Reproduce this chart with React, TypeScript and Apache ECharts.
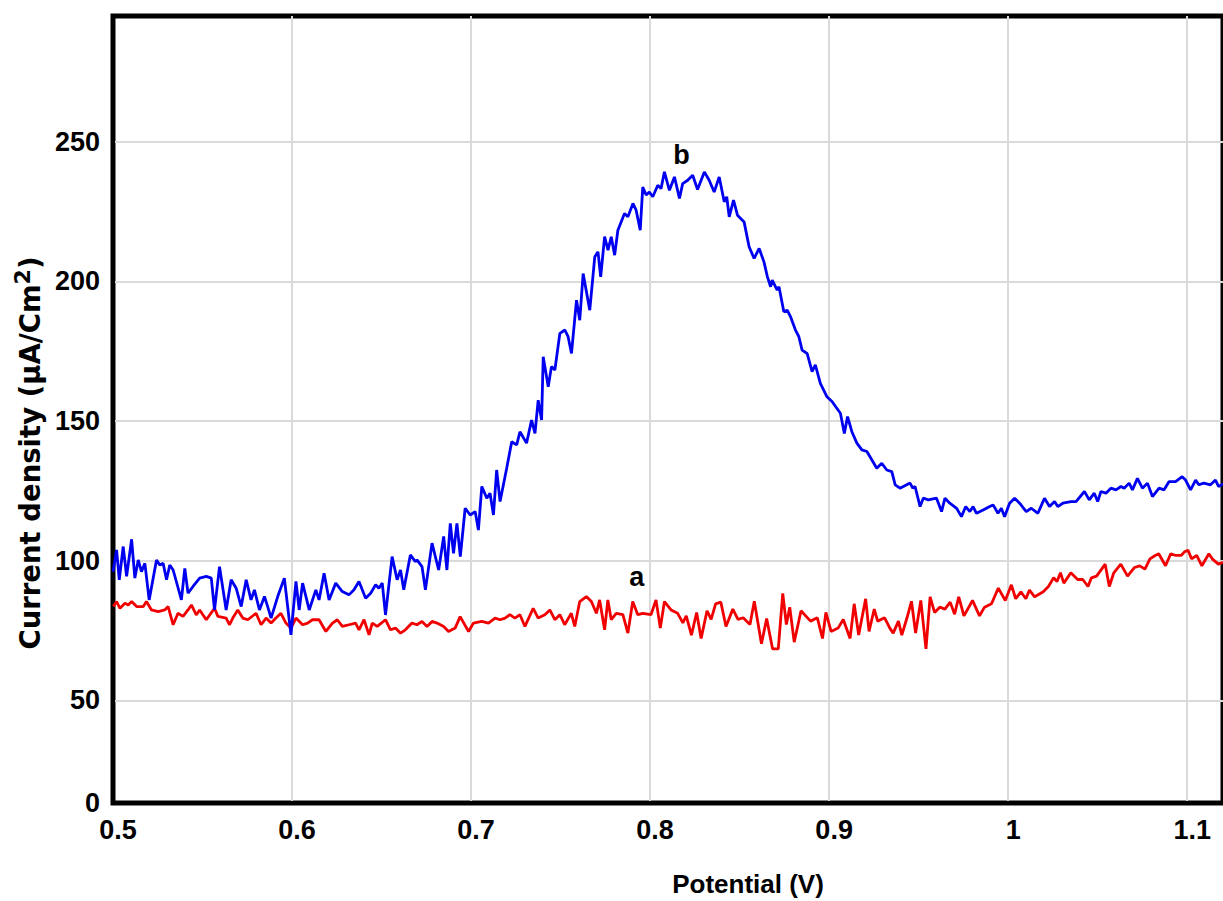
import React, { useEffect, useRef } from "react";
import * as echarts from "echarts";

// Axis settings (values)
const X_MIN = 0.5;
const X_MAX = 1.12;
const Y_MIN = 13.3;
const Y_MAX = 295;
const xTickValues = [0.5, 0.6, 0.7, 0.8, 0.9, 1.0, 1.1];
const yTickValues = [50, 100, 150, 200, 250];

// Curve a (red): [potential V, current density µA/cm²]
const curveA: number[][] = [
  [0.5002, 83.6], [0.502, 85.4], [0.5039, 83.0], [0.5067, 84.8], [0.5085, 84.2], [0.5104, 85.4], [0.5132, 83.6], [0.5169, 83.6],
  [0.5187, 85.4], [0.5215, 82.4], [0.5252, 81.8], [0.5289, 82.4], [0.5308, 83.6], [0.5336, 77.1], [0.5363, 81.2], [0.5391, 80.1],
  [0.5419, 82.4], [0.5438, 84.2], [0.5465, 80.6], [0.5484, 82.4], [0.5521, 78.9], [0.5567, 83.0], [0.5586, 80.1], [0.5632, 79.5],
  [0.5651, 77.1], [0.5669, 79.5], [0.5697, 82.4], [0.5725, 79.5], [0.5753, 78.9], [0.5799, 81.2], [0.5827, 77.1], [0.5855, 79.5],
  [0.5883, 77.7], [0.591, 79.5], [0.5938, 81.2], [0.5966, 77.7], [0.5994, 75.9], [0.6022, 79.5], [0.6059, 77.1], [0.6087, 77.7],
  [0.6114, 78.9], [0.6151, 78.9], [0.6189, 74.7], [0.6226, 77.7], [0.6253, 78.9], [0.6281, 76.5], [0.6318, 77.1], [0.6355, 77.7],
  [0.6374, 75.3], [0.6402, 78.9], [0.643, 73.5], [0.6448, 77.7], [0.6476, 76.5], [0.6522, 78.9], [0.655, 75.3], [0.6578, 75.9],
  [0.6606, 74.1], [0.6633, 75.3], [0.667, 77.7], [0.6698, 77.1], [0.6726, 78.3], [0.6754, 76.5], [0.6782, 78.3], [0.681, 77.7],
  [0.6847, 76.5], [0.6874, 74.7], [0.6911, 75.9], [0.6939, 80.0], [0.6986, 74.7], [0.7013, 77.7], [0.706, 78.3], [0.7097, 77.7],
  [0.7134, 79.5], [0.7162, 78.9], [0.719, 79.5], [0.7217, 80.7], [0.7245, 79.5], [0.7273, 80.7], [0.7301, 76.5], [0.7347, 83.0],
  [0.7375, 79.5], [0.7412, 80.7], [0.744, 82.4], [0.7468, 78.9], [0.7496, 80.7], [0.7523, 77.1], [0.756, 81.2], [0.7579, 76.5],
  [0.7607, 85.4], [0.7644, 87.2], [0.7672, 85.4], [0.77, 81.2], [0.7718, 86.0], [0.7746, 75.3], [0.7764, 86.0], [0.7783, 78.9],
  [0.7811, 81.2], [0.7848, 80.7], [0.7876, 74.1], [0.7903, 85.4], [0.7931, 80.7], [0.7959, 81.2], [0.8005, 80.7], [0.8033, 86.0],
  [0.8057, 75.9], [0.808, 85.4], [0.8117, 82.4], [0.8154, 81.2], [0.8183, 77.8], [0.8202, 80.3], [0.8231, 73.4], [0.826, 81.5],
  [0.8285, 72.2], [0.8318, 82.1], [0.8341, 79.0], [0.8366, 84.6], [0.8395, 85.2], [0.8424, 76.5], [0.8462, 82.7], [0.8491, 79.0],
  [0.852, 79.6], [0.8558, 77.2], [0.8582, 85.5], [0.8622, 70.3], [0.8651, 79.3], [0.8684, 68.5], [0.8716, 68.5], [0.8741, 88.3],
  [0.8761, 77.2], [0.878, 83.4], [0.8805, 70.9], [0.8843, 82.1], [0.8896, 78.4], [0.8934, 79.6], [0.8963, 72.2], [0.8982, 81.5],
  [0.9011, 74.7], [0.905, 75.9], [0.9079, 79.0], [0.9117, 72.2], [0.914, 84.6], [0.9165, 73.4], [0.9204, 86.4], [0.9223, 74.7],
  [0.9252, 82.7], [0.9271, 78.4], [0.931, 79.6], [0.9339, 75.9], [0.9358, 74.1], [0.9387, 78.4], [0.9406, 73.4], [0.9435, 79.6],
  [0.946, 85.5], [0.9483, 74.1], [0.9512, 85.8], [0.9541, 68.5], [0.9564, 87.1], [0.9589, 81.5], [0.9618, 83.4], [0.9647, 82.7],
  [0.9676, 85.2], [0.9701, 80.9], [0.9724, 87.1], [0.9753, 80.3], [0.9801, 85.8], [0.984, 80.3], [0.9868, 83.4], [0.9907, 84.6],
  [0.9945, 90.2], [0.9984, 85.8], [1.0018, 91.4], [1.0042, 86.4], [1.0071, 88.9], [1.0099, 86.4], [1.0119, 89.5], [1.0148, 87.1],
  [1.0196, 88.9], [1.0225, 90.8], [1.0254, 93.9], [1.0273, 92.6], [1.0292, 95.7], [1.0311, 92.0], [1.035, 95.7], [1.0388, 93.3],
  [1.0417, 93.3], [1.0446, 90.8], [1.0465, 93.9], [1.0494, 94.5], [1.0542, 98.8], [1.0565, 90.8], [1.059, 95.7], [1.0629, 98.8],
  [1.0667, 94.5], [1.0706, 97.6], [1.0735, 98.2], [1.0764, 97.0], [1.0792, 100.7], [1.0821, 101.9], [1.0841, 102.5], [1.0879, 98.2],
  [1.0908, 102.5], [1.0937, 101.9], [1.0966, 101.9], [1.0985, 103.2], [1.1005, 103.8], [1.1024, 100.7], [1.1053, 101.9], [1.1082, 98.2],
  [1.1121, 102.5], [1.114, 100.7], [1.1174, 98.8], [1.12, 99.5],
];

// Curve b (blue): [potential V, current density µA/cm²]
const curveB: number[][] = [
  [0.5, 96.1], [0.502, 103.9], [0.5035, 93.2], [0.5057, 105.1], [0.5076, 94.4], [0.5104, 107.7], [0.5122, 93.8], [0.5141, 100.3],
  [0.5159, 96.1], [0.5178, 99.1], [0.5202, 86.0], [0.5243, 100.3], [0.5261, 98.5], [0.528, 99.1], [0.5299, 93.2], [0.5317, 98.5],
  [0.5336, 96.7], [0.5382, 86.0], [0.5401, 97.3], [0.5419, 88.4], [0.5447, 90.8], [0.5484, 93.8], [0.5521, 94.4], [0.5549, 93.8],
  [0.5567, 82.4], [0.5595, 97.9], [0.5632, 82.4], [0.566, 93.2], [0.5688, 90.2], [0.5716, 83.6], [0.5744, 93.2], [0.5771, 86.0],
  [0.579, 89.6], [0.5818, 82.4], [0.5846, 87.2], [0.5864, 83.6], [0.5883, 79.5], [0.592, 87.2], [0.5957, 93.8], [0.5994, 73.5],
  [0.6022, 92.6], [0.604, 82.4], [0.6059, 92.0], [0.6096, 82.4], [0.6133, 89.6], [0.6151, 86.0], [0.6179, 95.5], [0.6207, 86.0],
  [0.6244, 92.0], [0.6281, 89.0], [0.6318, 87.8], [0.6346, 89.6], [0.6374, 92.6], [0.6411, 86.6], [0.6439, 88.4], [0.6467, 91.4],
  [0.6485, 90.2], [0.6504, 92.0], [0.6522, 80.6], [0.6559, 101.5], [0.6587, 93.2], [0.6606, 96.7], [0.6624, 89.6], [0.6661, 102.1],
  [0.6689, 99.7], [0.6698, 100.3], [0.6726, 97.9], [0.6745, 89.6], [0.6782, 106.3], [0.6819, 96.7], [0.6847, 108.7], [0.6865, 96.7],
  [0.6884, 113.4], [0.6902, 102.7], [0.6921, 113.4], [0.694, 101.5], [0.6967, 118.8], [0.6995, 116.4], [0.7023, 117.6], [0.7041, 111.0],
  [0.706, 126.6], [0.7088, 122.4], [0.7106, 124.2], [0.7125, 116.4], [0.7143, 132.5], [0.7162, 121.2], [0.7199, 133.1], [0.7227, 142.6],
  [0.7255, 141.5], [0.7273, 146.2], [0.731, 142.1], [0.7338, 150.4], [0.7357, 145.6], [0.7375, 157.5], [0.7394, 150.4], [0.7403, 173.0],
  [0.7431, 162.3], [0.7449, 169.5], [0.7468, 168.3], [0.7496, 181.4], [0.7524, 182.6], [0.7542, 180.2], [0.7561, 174.2], [0.7589, 193.3],
  [0.7607, 186.1], [0.7626, 202.8], [0.7663, 189.7], [0.7691, 208.8], [0.7709, 210.6], [0.7724, 201.6], [0.7746, 216.0], [0.7765, 211.2],
  [0.7783, 216.0], [0.7802, 209.4], [0.782, 218.3], [0.7857, 224.3], [0.7876, 223.1], [0.7904, 227.9], [0.7922, 225.5], [0.7945, 218.3],
  [0.7959, 233.8], [0.7978, 230.9], [0.7996, 232.0], [0.8015, 230.3], [0.8043, 234.4], [0.8061, 233.2], [0.808, 239.2], [0.8108, 232.6],
  [0.8136, 237.4], [0.8164, 229.7], [0.8182, 235.0], [0.821, 236.2], [0.8238, 238.0], [0.8265, 232.9], [0.8303, 239.2], [0.833, 236.2],
  [0.8358, 232.0], [0.8386, 237.4], [0.8414, 228.5], [0.8428, 230.3], [0.8442, 223.1], [0.8466, 229.1], [0.8488, 223.7], [0.8525, 221.3],
  [0.8553, 212.4], [0.8581, 208.2], [0.8609, 211.8], [0.8636, 207.0], [0.8655, 201.7], [0.8673, 198.1], [0.8682, 200.5], [0.871, 196.9],
  [0.872, 198.1], [0.8747, 189.1], [0.8766, 189.7], [0.8784, 187.4], [0.8812, 182.6], [0.8831, 180.2], [0.8849, 175.4], [0.8877, 174.2],
  [0.8905, 167.7], [0.8923, 170.1], [0.8951, 163.5], [0.8988, 158.7], [0.9016, 157.0], [0.9063, 152.8], [0.9085, 145.6], [0.9103, 151.6],
  [0.9127, 146.2], [0.9155, 142.1], [0.9183, 139.7], [0.9211, 139.1], [0.9239, 136.1], [0.9266, 133.1], [0.9294, 134.9], [0.9322, 132.5],
  [0.935, 131.9], [0.9369, 127.2], [0.9396, 126.0], [0.9433, 127.2], [0.9452, 127.8], [0.9467, 126.0], [0.948, 126.6], [0.9508, 119.4],
  [0.9526, 122.4], [0.9554, 121.8], [0.96, 122.4], [0.9628, 117.6], [0.9647, 122.4], [0.9674, 120.6], [0.9712, 118.8], [0.9739, 115.8],
  [0.9763, 119.4], [0.9786, 117.6], [0.9804, 119.4], [0.9823, 117.0], [0.986, 118.2], [0.9897, 119.4], [0.9916, 120.0], [0.9943, 117.0],
  [0.9962, 118.8], [0.998, 115.8], [1.0008, 120.6], [1.0036, 122.4], [1.0064, 120.6], [1.0101, 117.6], [1.0129, 118.8], [1.0166, 117.0],
  [1.0203, 122.4], [1.0231, 119.4], [1.0259, 121.2], [1.0277, 119.4], [1.0305, 120.6], [1.0351, 121.2], [1.0379, 121.2], [1.0426, 124.8],
  [1.0453, 121.8], [1.0481, 124.2], [1.05, 121.2], [1.0518, 124.8], [1.0546, 124.2], [1.0574, 126.0], [1.0602, 125.4], [1.063, 126.6],
  [1.0648, 126.0], [1.0676, 127.8], [1.0694, 125.4], [1.0722, 129.5], [1.075, 126.0], [1.0778, 127.8], [1.0806, 123.0], [1.0843, 126.0],
  [1.0871, 125.4], [1.0898, 128.3], [1.0935, 128.3], [1.0972, 130.1], [1.0991, 128.9], [1.1019, 125.4], [1.1047, 128.9], [1.1065, 127.2],
  [1.1093, 127.8], [1.113, 127.2], [1.1158, 128.9], [1.1175, 126.6], [1.12, 127.5],
];

// Curve annotation anchors [potential, current density]
const labelA = [0.7926, 94.2];
const labelB = [0.8176, 245.2];

const BOLD_SANS = "'Liberation Sans', Arial, sans-serif";
const TITLE_SANS = "'DejaVu Sans', Verdana, sans-serif";

export default function App() {
  const ref = useRef<HTMLDivElement>(null);

  useEffect(() => {
    if (!ref.current) return;
    const chart = echarts.init(ref.current, null, { renderer: "svg" });
    const tickFont = {
      fontFamily: BOLD_SANS,
      fontWeight: "bold" as const,
      fontSize: 27,
      color: "#000",
    };
    const curveLabel = (text: string) => ({
      show: true,
      position: "inside" as const,
      formatter: text,
      fontFamily: BOLD_SANS,
      fontWeight: "bold" as const,
      fontSize: 27,
      color: "#000",
    });

    chart.setOption({
      animation: false,
      backgroundColor: "#ffffff",
      grid: {
        left: 113,
        right: -5,
        top: 16,
        bottom: 98,
        show: true,
        borderColor: "#000",
        borderWidth: 5,
        backgroundColor: "transparent",
      },
      xAxis: {
        type: "value",
        min: X_MIN,
        max: X_MAX,
        interval: 0.1,
        axisLine: { show: true, onZero: false, lineStyle: { color: "#000", width: 4 } },
        axisTick: { show: false, customValues: xTickValues },
        axisLabel: {
          customValues: xTickValues,
          formatter: (v: number) => String(Math.round(v * 10) / 10),
          margin: 13,
          padding: [0, 0, 0, 10],
          ...tickFont,
        },
        splitLine: { show: true, lineStyle: { color: "#dadada", width: 2 } },
      },
      yAxis: {
        type: "value",
        min: Y_MIN,
        max: Y_MAX,
        axisLine: { show: true, onZero: false, lineStyle: { color: "#000", width: 4 } },
        axisTick: { show: false, customValues: yTickValues },
        axisLabel: {
          customValues: [Y_MIN, ...yTickValues],
          formatter: (v: number) => (v < 20 ? "0" : String(Math.round(v))),
          margin: 13,
          ...tickFont,
        },
        splitLine: { show: true, lineStyle: { color: "#dadada", width: 2 } },
      },
      series: [
        {
          name: "a",
          type: "line",
          data: curveA,
          symbol: "none",
          showSymbol: false,
          lineStyle: { color: "#f00000", width: 2.8 },
          itemStyle: { color: "#f00000" },
          markPoint: {
            symbol: "circle",
            symbolSize: 0,
            silent: true,
            data: [{ coord: labelA, label: curveLabel("a") }],
          },
        },
        {
          name: "b",
          type: "line",
          data: curveB,
          symbol: "none",
          showSymbol: false,
          lineStyle: { color: "#0000f0", width: 2.8 },
          itemStyle: { color: "#0000f0" },
          markPoint: {
            symbol: "circle",
            symbolSize: 0,
            silent: true,
            data: [{ coord: labelB, label: curveLabel("b") }],
          },
        },
      ],
      graphic: [
        {
          type: "text",
          x: 30,
          y: 453,
          rotation: Math.PI / 2,
          style: {
            text: "Current density (µA/Cm{sup|2})",
            fontFamily: TITLE_SANS,
            fontWeight: "bold",
            fontSize: 27.5,
            fill: "#000",
            align: "center",
            verticalAlign: "middle",
            rich: {
              sup: {
                fontFamily: TITLE_SANS,
                fontWeight: "bold",
                fontSize: 22,
                fill: "#000",
                padding: [0, 0, 15, 0],
              },
            },
          },
        },
        {
          type: "text",
          x: 748,
          y: 884,
          style: {
            text: "Potential (V)",
            fontFamily: BOLD_SANS,
            fontWeight: "bold",
            fontSize: 26,
            fill: "#000",
            align: "center",
            verticalAlign: "middle",
          },
        },
      ],
    });

    return () => {
      chart.dispose();
    };
  }, []);

  return (
    <div
      ref={ref}
      style={{ position: "absolute", left: 0, top: 0, width: 1223, height: 901 }}
    />
  );
}
